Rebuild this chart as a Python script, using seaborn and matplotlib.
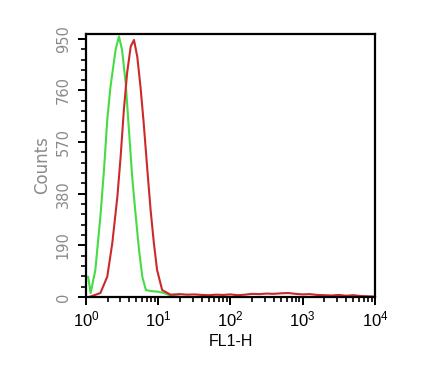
"""Flow cytometry overlay histogram (FL1-H) redrawn with seaborn."""
import numpy as np
import pandas as pd
import matplotlib
matplotlib.use('Agg')
import matplotlib.pyplot as plt
import matplotlib.ticker as mticker
import seaborn as sns

# channel positions in log10 units
green_log = [0.03, 0.065, 0.13, 0.20, 0.25, 0.295, 0.34, 0.41, 0.457, 0.50,
             0.55, 0.595, 0.64, 0.69, 0.735, 0.78, 0.83, 0.90, 1.00, 1.08,
             1.18, 1.30]
green_counts = [75, 15, 99, 296, 468, 652, 774, 909, 959, 909,
                788, 615, 443, 296, 173, 75, 26, 22, 20, 15,
                5, 2]

red_log = [0.04, 0.20, 0.295, 0.365, 0.435, 0.48, 0.525, 0.57, 0.62, 0.665,
           0.71, 0.755, 0.80, 0.85, 0.895, 0.94, 0.985, 1.055, 1.17, 1.30,
           1.40, 1.50, 1.60, 1.70, 1.80, 1.90, 2.00, 2.10, 2.20, 2.30,
           2.40, 2.50, 2.60, 2.70, 2.80, 2.90, 3.00, 3.10, 3.20, 3.30,
           3.40, 3.50, 3.60, 3.70, 3.80, 3.90, 4.00]
red_counts = [0, 15, 75, 199, 369, 516, 689, 825, 922, 946,
              885, 774, 638, 468, 320, 199, 99, 26, 9, 11,
              9, 10, 8, 7, 9, 8, 10, 7, 9, 12,
              11, 13, 12, 14, 15, 12, 10, 11, 8, 7,
              6, 8, 5, 7, 4, 3, 2]

y_ticks = [0, 190, 380, 570, 760, 950]
x_ticks = [1, 10, 100, 1000, 10000]

sns.set_style('ticks')
plt.rcParams['font.family'] = ['Liberation Sans', 'DejaVu Sans']

df = pd.concat([
    pd.DataFrame({'FL1-H': np.power(10.0, green_log), 'Counts': green_counts,
                  'sample': 'control'}),
    pd.DataFrame({'FL1-H': np.power(10.0, red_log), 'Counts': red_counts,
                  'sample': 'stained'}),
])

fig = plt.figure(figsize=(4.34, 3.65), dpi=100)
ax = fig.add_axes([0.198, 0.186, 0.666, 0.721])

sns.lineplot(data=df, x='FL1-H', y='Counts', hue='sample',
             palette={'control': '#45dc45', 'stained': '#cc2a2a'},
             linewidth=1.5, legend=False, ax=ax, sort=False)

ax.set_xscale('log')
ax.set_xlim(1, 10000)
ax.set_ylim(0, 968)
ax.set_xticks(x_ticks)
ax.xaxis.set_minor_locator(mticker.LogLocator(base=10, subs=np.arange(2, 10)))
ax.xaxis.set_minor_formatter(mticker.NullFormatter())
ax.set_yticks(y_ticks)
ax.set_yticklabels([str(v) for v in y_ticks], family='DejaVu Sans')
ax.yaxis.set_minor_locator(mticker.MultipleLocator(38))

for side in ['top', 'right', 'left', 'bottom']:
    ax.spines[side].set_visible(True)
    ax.spines[side].set_linewidth(1.6)
    ax.spines[side].set_color('black')

ax.tick_params(axis='both', which='major', direction='out', length=6,
               width=1.4, color='black')
ax.tick_params(axis='both', which='minor', direction='out', length=3.5,
               width=1.2, color='black')
ax.tick_params(axis='x', which='major', labelsize=12, pad=3,
               labelcolor='black')
ax.tick_params(axis='y', which='major', labelsize=10.5, pad=5,
               labelcolor='#8a8a8a')
plt.setp(ax.get_yticklabels(), rotation=90, va='center')

ax.set_xlabel('FL1-H', fontsize=11.5, color='black', labelpad=3)
ax.set_ylabel('Counts', fontsize=12, color='#8a8a8a', labelpad=3,
              family='DejaVu Sans')

fig.savefig('out.png', dpi=100)
